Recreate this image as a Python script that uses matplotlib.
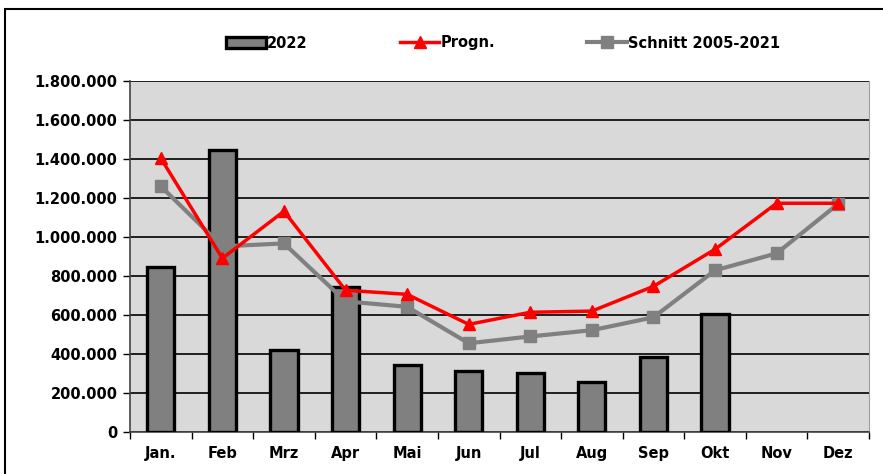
import matplotlib.pyplot as plt
from matplotlib.ticker import FuncFormatter, FixedLocator
from matplotlib.patches import Rectangle
import numpy as np

months = ['Jan.', 'Feb', 'Mrz', 'Apr', 'Mai', 'Jun', 'Jul', 'Aug', 'Sep', 'Okt', 'Nov', 'Dez']
val_2022 = [845000, 1445000, 419000, 742000, 342000, 311000, 305000, 255000, 383000, 604000]
progn = [1404000, 891000, 1132000, 727000, 706000, 552000, 614000, 620000, 747000, 937000, 1173000, 1173000]
schnitt = [1260000, 952000, 967000, 670000, 642000, 455000, 490000, 522000, 588000, 829000, 916000, 1170000]

plt.rcParams['font.family'] = ['DejaVu Sans']
plt.rcParams['font.weight'] = 'bold'

fig = plt.figure(figsize=(8.83, 4.74), dpi=100)
ax = fig.add_axes([130/883, 1-432/474, 739/883, 351/474])
ax.set_facecolor('#d9d9d9')

x = np.arange(len(months))
bars = ax.bar(x[:len(val_2022)], val_2022, width=0.44, color='#808080', edgecolor='black',
              linewidth=2.4, label='2022', zorder=3)
l1, = ax.plot(x, progn, color='red', lw=2.5, marker='^', ms=8, label='Progn.', zorder=5)
l2, = ax.plot(x, schnitt, color='#808080', lw=3, marker='s', ms=9, label='Schnitt 2005-2021', zorder=4)

ax.set_xlim(-0.5, 11.5)
ax.set_ylim(0, 1800000)
ax.set_yticks(np.arange(0, 1800001, 200000))
ax.yaxis.set_major_formatter(FuncFormatter(lambda v, p: f'{int(v):,}'.replace(',', '.')))
ax.grid(axis='y', color='black', lw=1.2, zorder=1)
ax.set_axisbelow(True)

ax.set_xticks(x)
ax.set_xticklabels(months)
ax.xaxis.set_minor_locator(FixedLocator(np.arange(-0.5, 12, 1)))
ax.tick_params(axis='x', which='major', length=0, pad=10, labelsize=10.5)
ax.tick_params(axis='x', which='minor', length=5, width=1, direction='out')
ax.tick_params(axis='y', length=5, width=1, labelsize=10.5, pad=4)

for s in ['left', 'bottom']:
    ax.spines[s].set_color('#444444')
    ax.spines[s].set_linewidth(1.2)
ax.spines['top'].set_visible(False)
ax.spines['right'].set_color('#a0a0a0')

fig.legend(handles=[bars, l1, l2], loc='center', bbox_to_anchor=(0.57, 1-43/474), ncol=3,
           frameon=False, columnspacing=6.3, handlelength=2.7, handletextpad=0.1, fontsize=10.5)

fig.patches.append(Rectangle((5/883, -0.1), 1.2, 1-9/474+0.1, transform=fig.transFigure,
                             fill=False, edgecolor='black', lw=1.5))

fig.savefig('out.png', dpi=100)
